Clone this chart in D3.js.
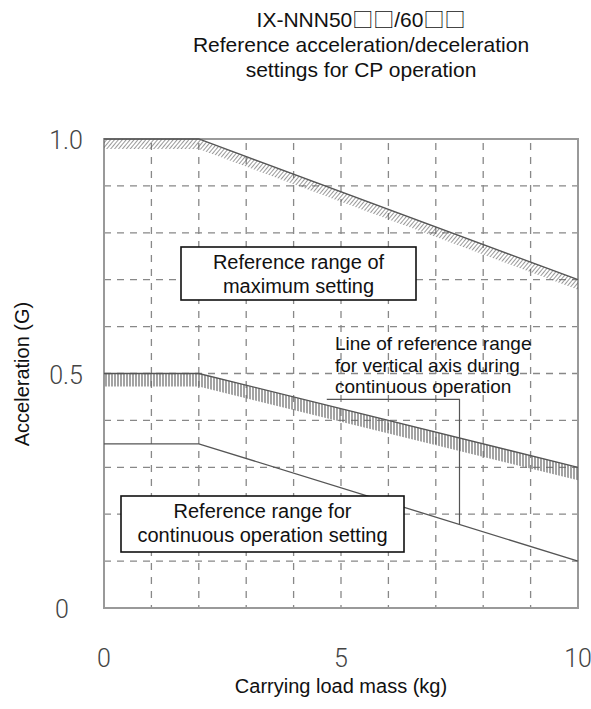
<!DOCTYPE html>
<html>
<head>
<meta charset="utf-8">
<script src="https://cdn.jsdelivr.net/npm/d3@7"></script>
<style>
  body { margin: 0; background: #fff; }
  text { font-family: "Liberation Sans", Arial, sans-serif; fill: #111; }
  .tick-label { font-family: Roboto, "DejaVu Sans", sans-serif; font-weight: 300; fill: #444; }
  .sq { font-family: "Noto Sans CJK JP", sans-serif; }
</style>
</head>
<body>
<div id="chart"></div>
<script>
const width = 591;
const height = 709;

// data
const massPoints = [0, 2, 10];                 // kg
const maxSetting = [1.0, 1.0, 0.7];            // reference range of maximum setting
const verticalLimit = [0.5, 0.5, 0.3];         // vertical axis, continuous operation
const continuousSetting = [0.35, 0.35, 0.1];   // continuous operation setting
const massTicks = [0, 5, 10];
const accelTicks = [0, 0.5, 1.0];
const massGrid = d3.range(1, 10);
const accelGrid = d3.range(1, 10).map(d => d / 10);
const titleLines = ["Reference acceleration/deceleration", "settings for CP operation"];

const x = d3.scaleLinear().domain([0, 10]).range([104, 578]);
const y = d3.scaleLinear().domain([0, 1]).range([608, 139]);

const svg = d3.select("#chart")
              .append("svg")
              .attr("width", width)
              .attr("height", height)

const defs = svg.append("defs")
defs.append("pattern")
    .attr("id", "diag")
    .attr("patternUnits", "userSpaceOnUse")
    .attr("width", 3)
    .attr("height", 3)
    .attr("patternTransform", "rotate(40)")
  .append("line")
    .attr("x1", 0).attr("y1", 0).attr("x2", 0).attr("y2", 3)
    .attr("stroke", "#555")
    .attr("stroke-width", 1.2)
defs.append("pattern")
    .attr("id", "vert")
    .attr("patternUnits", "userSpaceOnUse")
    .attr("width", 3)
    .attr("height", 3)
  .append("line")
    .attr("x1", 1).attr("y1", 0).attr("x2", 1).attr("y2", 3)
    .attr("stroke", "#666")
    .attr("stroke-width", 1.2)

// title
const t1 = svg.append("text")
   .attr("x", 361)
   .attr("y", 27)
   .attr("text-anchor", "middle")
   .attr("font-size", 21)
t1.append("tspan").text("IX-NNN50")
t1.append("tspan").attr("class", "sq").text("\u25A1\u25A1")
t1.append("tspan").text("/60")
t1.append("tspan").attr("class", "sq").text("\u25A1\u25A1")

svg.append("g")
   .selectAll("text")
   .data(titleLines)
   .enter()
   .append("text")
   .attr("x", 361)
   .attr("y", (d, i) => 52 + i * 25)
   .attr("text-anchor", "middle")
   .attr("font-size", 21)
   .text(d => d)

// grid
svg.append("g")
   .selectAll("line")
   .data(accelGrid)
   .enter()
   .append("line")
   .attr("x1", x(0)).attr("x2", x(10))
   .attr("y1", d => y(d)).attr("y2", d => y(d))
   .attr("stroke", "#888")
   .attr("stroke-width", 1.3)
   .attr("stroke-dasharray", "7,6")
svg.append("g")
   .selectAll("line")
   .data(massGrid)
   .enter()
   .append("line")
   .attr("x1", d => x(d)).attr("x2", d => x(d))
   .attr("y1", y(1)).attr("y2", y(0))
   .attr("stroke", "#888")
   .attr("stroke-width", 1.3)
   .attr("stroke-dasharray", "7,7")
   .attr("stroke-dashoffset", -4)

// frame
svg.append("rect")
   .attr("x", x(0)).attr("y", y(1))
   .attr("width", x(10) - x(0))
   .attr("height", y(0) - y(1))
   .attr("fill", "none")
   .attr("stroke", "#999")
   .attr("stroke-width", 2)

const line = d3.line().x(d => x(d[0])).y(d => y(d[1]))

function band(values, depth, fill) {
  const top = massPoints.map((m, i) => [x(m), y(values[i])])
  const bottom = top.map(p => [p[0], p[1] + depth]).reverse()
  svg.append("path")
     .attr("d", "M" + top.concat(bottom).join("L") + "Z")
     .attr("fill", fill)
}

band(maxSetting, 10, "url(#diag)")
band(verticalLimit, 13, "url(#vert)")

;[maxSetting, verticalLimit, continuousSetting].forEach(vals => {
  svg.append("path")
     .datum(massPoints.map((m, i) => [m, vals[i]]))
     .attr("d", line)
     .attr("fill", "none")
     .attr("stroke", "#555")
     .attr("stroke-width", 1.3)
})

// leader line for the vertical axis annotation
svg.append("path")
   .datum([[4.7, 0.445], [7.5, 0.445], [7.5, 0.178]])
   .attr("d", line)
   .attr("fill", "none")
   .attr("stroke", "#555")
   .attr("stroke-width", 1.2)

// annotation boxes
const boxes = [
  {x: 181, y: 247, w: 235, h: 53, lines: ["Reference range of", "maximum setting"]},
  {x: 121, y: 496, w: 283, h: 56, lines: ["Reference range for", "continuous operation setting"]}
]
const boxG = svg.selectAll(".box")
                .data(boxes)
                .enter()
                .append("g")
                .attr("class", "box")
boxG.append("rect")
    .attr("x", d => d.x).attr("y", d => d.y)
    .attr("width", d => d.w).attr("height", d => d.h)
    .attr("fill", "white")
    .attr("stroke", "#111")
    .attr("stroke-width", 1.6)
boxG.each(function(d) {
  d3.select(this).selectAll("text")
    .data(d.lines)
    .enter()
    .append("text")
    .attr("x", d.x + d.w / 2)
    .attr("y", (t, i) => d.y + 22 + i * 24)
    .attr("text-anchor", "middle")
    .attr("font-size", 20)
    .text(t => t)
})

svg.append("g")
   .selectAll("text")
   .data(["Line of reference range", "for vertical axis during", "continuous operation"])
   .enter()
   .append("text")
   .attr("x", 335)
   .attr("y", (d, i) => 350 + i * 21.5)
   .attr("font-size", 19)
   .text(d => d)

// tick labels
svg.append("g")
   .selectAll("text")
   .data(accelTicks)
   .enter()
   .append("text")
   .attr("class", "tick-label")
   .attr("x", d => d === 0 ? 62 : 66)
   .attr("y", d => y(d) + 10)
   .attr("text-anchor", "middle")
   .attr("font-size", 25)
   .text(d => d === 0 ? "0" : d3.format(".1f")(d))
svg.append("g")
   .selectAll("text")
   .data(massTicks)
   .enter()
   .append("text")
   .attr("class", "tick-label")
   .attr("x", d => x(d))
   .attr("y", 667)
   .attr("text-anchor", "middle")
   .attr("font-size", 25)
   .text(d => d)

// axis titles
svg.append("text")
   .attr("x", 341)
   .attr("y", 693)
   .attr("text-anchor", "middle")
   .attr("font-size", 20)
   .text("Carrying load mass (kg)")
svg.append("text")
   .attr("transform", "translate(29,374) rotate(-90)")
   .attr("text-anchor", "middle")
   .attr("font-size", 20)
   .text("Acceleration (G)")
</script>
</body>
</html>
